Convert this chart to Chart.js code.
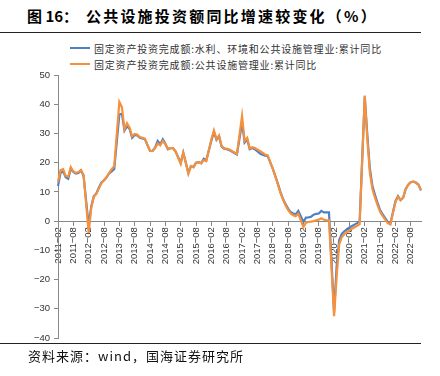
<!DOCTYPE html>
<html>
<head>
<meta charset="utf-8">
<script src="https://cdn.jsdelivr.net/npm/chart.js@4.4.0/dist/chart.umd.min.js"></script>
<style>
  html, body { margin: 0; padding: 0; background: #fff; }
  #wrap { position: relative; width: 440px; height: 376px; overflow: hidden; background: #fff; }
  #chart { position: absolute; left: 0; top: 0; }
  .t1 { position: absolute; top: 5px; left: 27px; font: bold 15px "Noto Sans CJK SC", sans-serif; color: #000; white-space: nowrap; }
  .t2 { position: absolute; top: 5px; left: 86px; font: bold 15px "Noto Sans CJK SC", sans-serif; color: #000; letter-spacing: 2.2px; white-space: nowrap; }
  .rule { position: absolute; left: 0; width: 421px; height: 1px; background: #222; }
  #legend { position: absolute; left: 70px; top: 40px; }
  .lg-item { display: flex; align-items: center; height: 16px; }
  .lg-line { width: 20px; height: 2px; margin-right: 4px; }
  .lg-text { font: 10px "Noto Sans CJK SC", sans-serif; color: #333; letter-spacing: 0.8px; white-space: nowrap; }
  .src { position: absolute; left: 28px; top: 346px; font: 13px "Noto Sans CJK SC", sans-serif; color: #111; letter-spacing: 1px; white-space: nowrap; }
</style>
</head>
<body>
<div id="wrap">
  <div class="t1">图 16：</div>
  <div class="t2">公共设施投资额同比增速较变化（%）</div>
  <div class="rule" style="top:32px"></div>
  <div id="legend"></div>
  <canvas id="chart" width="440" height="376"></canvas>
  <div class="rule" style="top:343px"></div>
  <div class="src">资料来源：wind，国海证券研究所</div>
</div>
<script>
// Categories: monthly, 2011-02 .. 2022-12 (January has no cumulative data -> null)
const categories = [];
for (let y = 2011; y <= 2022; y++) {
  for (let m = 1; m <= 12; m++) {
    if (y === 2011 && m === 1) continue;
    categories.push(y + '-' + String(m).padStart(2, '0'));
  }
}

const seriesNames = [
  '固定资产投资完成额:水利、环境和公共设施管理业:累计同比',
  '固定资产投资完成额:公共设施管理业:累计同比'
];

// 水利、环境和公共设施管理业 (blue)
const waterEnvPublic = [
  12.0, 16.5, 17.0, 15.0, 14.5, 18.0, 16.8, 16.3, 16.5, 17.3, 15.5,          // 2011 Feb-Dec
  null, -1.5, 5.0, 8.5, 9.5, 11.5, 13.2, 14.0, 15.0, 16.3, 17.0, 17.8,      // 2012
  null, 36.5, 36.7, 31.0, 32.5, 31.5, 28.5, 29.5, 29.3, 28.5, 28.3, 28.0,   // 2013
  null, 24.0, 24.0, 25.2, 27.4, 26.3, 28.0, 26.5, 24.6, 25.0, 25.0, 23.8,   // 2014
  null, 20.0, 23.4, 20.0, 16.5, 18.8, 18.5, 20.0, 20.2, 19.8, 21.3, 20.8,   // 2015
  null, 27.5, 30.5, 27.8, 29.0, 25.5, 24.8, 24.6, 24.3, 23.8, 23.3, 22.8,   // 2016
  null, 33.7, 26.9, 28.0, 24.6, 25.0, 24.6, 23.9, 23.1, 22.7, 22.4, 22.3,   // 2017
  null, 18.0, 15.4, 12.8, 10.0, 7.7, 5.8, 4.3, 3.1, 2.6, 2.3, 3.5,          // 2018
  null, -0.3, 1.2, 1.3, 1.5, 2.2, 2.5, 2.6, 3.5, 3.0, 3.0, 3.0,             // 2019
  null, -31.0, -15.5, -6.5, -4.4, -3.5, -2.8, -2.2, -1.7, -1.2, -0.7, -0.1, // 2020
  null, 42.5, 29.5, 18.0, 12.0, 9.0, 6.2, 3.8, 2.3, 1.0, -0.3, -0.9,        // 2021
  null, 6.8, 8.5, 7.2, 8.0, 10.9, 12.5, 13.3, 13.5, 13.2, 12.5, 10.5        // 2022
];

// 公共设施管理业 (orange)
const publicFacilities = [
  13.5, 17.5, 17.8, 15.5, 15.2, 18.5, 17.0, 16.5, 16.8, 17.5, 15.8,          // 2011 Feb-Dec
  null, -4.0, 4.5, 8.3, 9.3, 11.2, 13.0, 14.0, 15.0, 16.5, 17.8, 18.8,      // 2012
  null, 40.8, 39.0, 31.5, 33.5, 32.0, 29.0, 29.8, 29.6, 28.8, 28.5, 28.2,   // 2013
  null, 24.0, 24.0, 25.0, 26.6, 25.9, 27.4, 26.3, 24.6, 25.0, 25.0, 23.8,   // 2014
  null, 19.6, 23.4, 20.0, 16.2, 18.8, 18.5, 20.0, 20.2, 19.8, 20.9, 20.5,   // 2015
  null, 28.0, 31.0, 28.0, 29.3, 25.7, 24.9, 24.8, 24.5, 24.0, 23.5, 23.0,   // 2016
  null, 36.0, 27.4, 28.5, 24.9, 25.3, 25.0, 24.5, 24.0, 23.4, 22.8, 22.6,   // 2017
  null, 18.0, 15.4, 12.6, 9.7, 7.4, 5.4, 3.8, 2.6, 2.0, 1.7, 2.5,           // 2018
  null, -2.0, -0.5, -0.3, -0.2, 0.0, 0.3, 0.5, 1.0, 0.5, 0.3, 0.3,          // 2019
  null, -32.5, -19.0, -8.0, -5.5, -4.5, -3.7, -3.2, -2.6, -2.1, -1.6, -1.0, // 2020
  null, 43.0, 28.0, 16.5, 11.0, 8.0, 5.5, 3.2, 1.8, 0.5, -0.7, -1.1,        // 2021
  null, 6.5, 8.3, 7.2, 8.0, 10.9, 12.5, 13.3, 13.5, 13.2, 12.5, 10.5        // 2022
];

const yTicks = { min: -40, max: 50, step: 10 };
const tickEvery = 6; // label every 6 months (02 / 08)

const BLUE = '#4F7FC4';
const ORANGE = '#F5913D';

Chart.defaults.font.family = "'Liberation Sans', Arial, sans-serif";

const chart = new Chart(document.getElementById('chart'), {
  type: 'line',
  data: {
    labels: categories,
    datasets: [
      { label: seriesNames[0], data: waterEnvPublic, borderColor: BLUE, backgroundColor: BLUE,
        borderWidth: 2.2, pointRadius: 0, tension: 0, spanGaps: true, order: 1 },
      { label: seriesNames[1], data: publicFacilities, borderColor: ORANGE, backgroundColor: ORANGE,
        borderWidth: 2.2, pointRadius: 0, tension: 0, spanGaps: true, order: 0 }
    ]
  },
  options: {
    responsive: false,
    animation: false,
    devicePixelRatio: 1,
    layout: { padding: { top: 75, bottom: 38, left: 0, right: 19 } },
    plugins: { legend: { display: false }, tooltip: { enabled: false } },
    scales: {
      x: {
        type: 'category',
        position: { y: 0 },
        offset: false,
        grid: {
          display: true, drawOnChartArea: false, tickLength: 4,
          tickColor: (ctx) => (ctx.index % tickEvery === 0 ? '#888' : 'rgba(0,0,0,0)')
        },
        border: { display: true, color: '#888', width: 1 },
        ticks: {
          autoSkip: false, minRotation: 90, maxRotation: 90, padding: 2,
          color: '#333', font: { size: 9.5 },
          callback: function (v, i) {
            return i % tickEvery === 0 ? categories[i].replace('-', '\u2212') : '';
          }
        }
      },
      y: {
        min: yTicks.min, max: yTicks.max,
        afterFit: (scale) => { scale.width = 58; },
        grid: { display: true, drawOnChartArea: false, tickLength: 4, tickColor: '#888' },
        border: { display: true, color: '#888', width: 1 },
        ticks: {
          stepSize: yTicks.step, padding: 4, color: '#333', font: { size: 9.5 },
          callback: (v) => String(v).replace('-', '\u2212')
        }
      }
    }
  }
});

// HTML legend generated from the chart's datasets
const legendEl = document.getElementById('legend');
chart.data.datasets.forEach(ds => {
  const item = document.createElement('div');
  item.className = 'lg-item';
  const line = document.createElement('span');
  line.className = 'lg-line';
  line.style.background = ds.borderColor;
  const txt = document.createElement('span');
  txt.className = 'lg-text';
  txt.textContent = ds.label;
  item.appendChild(line);
  item.appendChild(txt);
  legendEl.appendChild(item);
});
</script>
</body>
</html>
